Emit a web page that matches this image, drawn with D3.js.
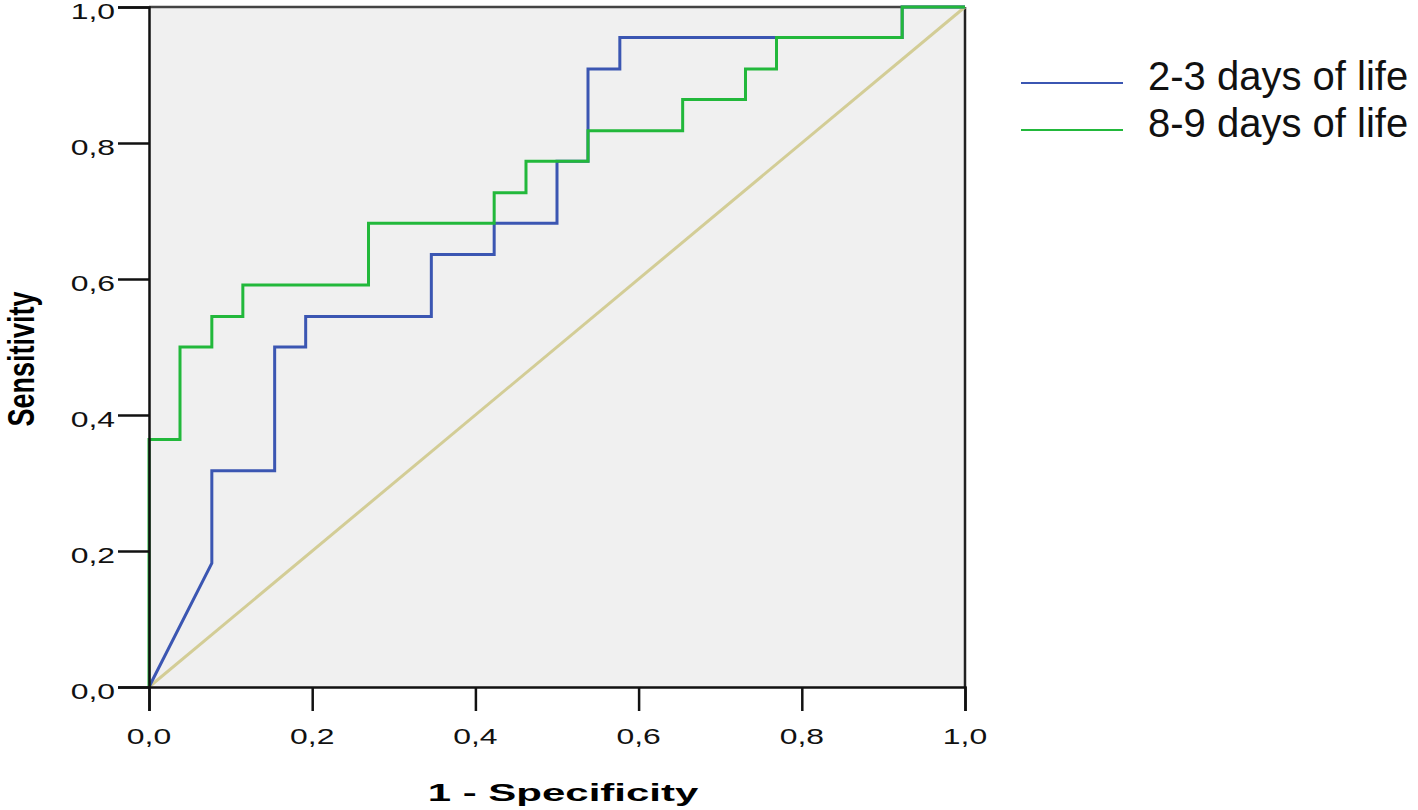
<!DOCTYPE html>
<html>
<head>
    <meta charset="utf-8" />
    <title>ROC curve</title>
    <script src="https://cdn.jsdelivr.net/npm/d3@7"></script>
    <style>
        html, body { margin: 0; padding: 0; background: #fff; }
        text { font-family: "Liberation Sans", Arial, sans-serif; }
    </style>
</head>
<body>
<script>

    // ROC corner points (1 - specificity, sensitivity)
    var blueX = [0, 0.077, 0.077, 0.154, 0.154, 0.192, 0.192, 0.346, 0.346, 0.423, 0.423, 0.500, 0.500, 0.538, 0.538, 0.577, 0.577, 0.923, 0.923, 1.0];
    var blueY = [0, 0.182, 0.318, 0.318, 0.500, 0.500, 0.545, 0.545, 0.636, 0.636, 0.682, 0.682, 0.773, 0.773, 0.909, 0.909, 0.955, 0.955, 1.0, 1.0];
    var greenX = [0, 0, 0.038, 0.038, 0.077, 0.077, 0.115, 0.115, 0.269, 0.269, 0.423, 0.423, 0.462, 0.462, 0.538, 0.538, 0.654, 0.654, 0.731, 0.731, 0.769, 0.769, 0.923, 0.923, 1.0];
    var greenY = [0, 0.364, 0.364, 0.500, 0.500, 0.545, 0.545, 0.591, 0.591, 0.682, 0.682, 0.727, 0.727, 0.773, 0.773, 0.818, 0.818, 0.864, 0.864, 0.909, 0.909, 0.955, 0.955, 1.0, 1.0];
    var refX = [0, 1];
    var refY = [0, 1];
    var seriesNames = ['2-3 days of life', '8-9 days of life'];
    var seriesColors = ['#3b56b2', '#22b83b'];
    var ticks = [0, 0.2, 0.4, 0.6, 0.8, 1.0];

    var width = 1418, height = 810;
    var svg = d3.select('body').append('svg').attr('width', width).attr('height', height);

    var x = d3.scaleLinear().domain([0, 1]).range([149, 965]);
    var y = d3.scaleLinear().domain([0, 1]).range([687, 7]);
    var fmt = function(d){ return d3.format('.1f')(d).replace('.', ','); };

    // plot background
    svg.append('rect').attr('x', x(0)).attr('y', y(1))
        .attr('width', x(1) - x(0)).attr('height', y(0) - y(1))
        .attr('fill', '#f0f0f0');

    // frame top + right
    svg.append('line').attr('x1', x(0)).attr('x2', x(1)).attr('y1', y(1)).attr('y2', y(1))
        .attr('stroke', '#444').attr('stroke-width', 2.5);
    svg.append('line').attr('x1', x(1)).attr('x2', x(1)).attr('y1', y(1)).attr('y2', y(0))
        .attr('stroke', '#222').attr('stroke-width', 2.5);

    var line = d3.line().x(function(d){ return x(d[0]); }).y(function(d){ return y(d[1]); });
    var zip = function(a, b){ return a.map(function(v, i){ return [v, b[i]]; }); };

    svg.append('path').attr('d', line(zip(refX, refY)))
        .attr('fill', 'none').attr('stroke', '#d3cd96').attr('stroke-width', 3);
    svg.append('path').attr('d', line(zip(blueX, blueY)))
        .attr('fill', 'none').attr('stroke', seriesColors[0]).attr('stroke-width', 3);
    svg.append('path').attr('d', line(zip(greenX, greenY)))
        .attr('fill', 'none').attr('stroke', seriesColors[1]).attr('stroke-width', 3);

    // axes
    var gx = svg.append('g').attr('transform', 'translate(0,' + y(0) + ')')
        .call(d3.axisBottom(x).tickValues(ticks).tickSize(24).tickFormat(''));
    var gy = svg.append('g').attr('transform', 'translate(' + x(0) + ',0)')
        .call(d3.axisLeft(y).tickValues(ticks).tickSize(31).tickFormat(''));
    [gx, gy].forEach(function(g){
        g.select('.domain').attr('stroke', '#111').attr('stroke-width', 2.5);
        g.selectAll('.tick line').attr('stroke', '#111').attr('stroke-width', 2.5);
    });

    // tick labels, stretched wide like the original
    svg.selectAll('.xl').data(ticks).enter().append('text')
        .attr('transform', function(d){ return 'translate(' + x(d) + ',744) scale(1.45,1)'; })
        .attr('text-anchor', 'middle').attr('font-size', 22).attr('fill', '#111')
        .text(fmt);
    svg.selectAll('.yl').data(ticks).enter().append('text')
        .attr('transform', function(d){ return 'translate(115,' + (y(d) + 12) + ') scale(1.45,1)'; })
        .attr('text-anchor', 'end').attr('font-size', 22).attr('fill', '#111')
        .text(fmt);

    // axis titles
    svg.append('text').attr('transform', 'translate(563,801) scale(1.75,1)')
        .attr('text-anchor', 'middle').attr('font-size', 24).attr('font-weight', 'bold')
        .text('1 - Specificity');
    svg.append('text').attr('transform', 'translate(34,359) scale(1.35,1) rotate(-90)')
        .attr('text-anchor', 'middle').attr('font-size', 27).attr('font-weight', 'bold')
        .text('Sensitivity');

    // legend
    var leg = svg.selectAll('.leg').data(seriesNames).enter().append('g')
        .attr('transform', function(d, i){ return 'translate(1021,' + (83 + i * 47) + ')'; });
    leg.append('line').attr('x1', 0).attr('x2', 102).attr('y1', 0).attr('y2', 0)
        .attr('stroke', function(d, i){ return seriesColors[i]; }).attr('stroke-width', 2);
    leg.append('text').attr('x', 127).attr('y', 7).attr('font-size', 40).attr('fill', '#111')
        .text(function(d){ return d; });

</script>
</body>
</html>
